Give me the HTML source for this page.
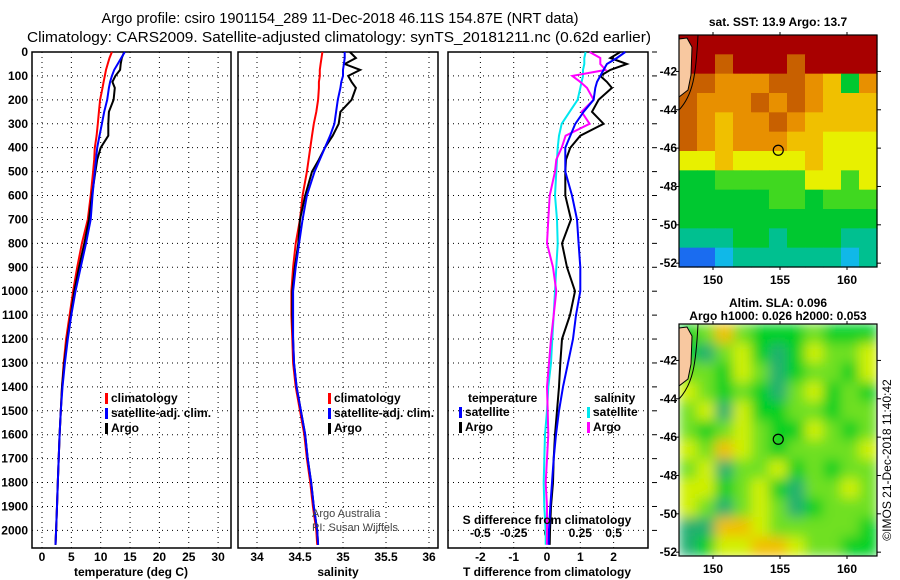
<!DOCTYPE html>
<html><head><meta charset="utf-8">
<style>
body{margin:0;background:#fff;}
svg{display:block;font-family:"Liberation Sans",sans-serif;}
.t{font-weight:bold;font-size:12px;}
</style></head>
<body>
<svg id="fig" width="900" height="580" viewBox="0 0 900 580">
<defs>
<filter id="blur" x="0" y="0" width="1" height="1"><feGaussianBlur stdDeviation="6" edgeMode="duplicate"/></filter>
<clipPath id="clipSla"><rect x="679" y="324" width="198" height="232"/></clipPath>
</defs>
<text x="340" y="23" text-anchor="middle" font-size="15" textLength="477" lengthAdjust="spacingAndGlyphs">Argo profile: csiro 1901154_289 11-Dec-2018 46.11S 154.87E (NRT data)</text>
<text x="339" y="42" text-anchor="middle" font-size="15" textLength="624" lengthAdjust="spacingAndGlyphs">Climatology: CARS2009. Satellite-adjusted climatology: synTS_20181211.nc (0.62d earlier)</text>
<g id="g"></g>
</svg>
<script>
// ---- data ----
const depths=[0,25,50,75,100,125,150,200,250,300,350,400,450,500,600,700,800,900,1000,1100,1200,1300,1400,1500,1600,1700,1800,1900,2000,2060];
const tempClim=[11.9,11.5,11.2,10.9,10.7,10.5,10.3,9.9,9.7,9.5,9.3,9.0,8.9,8.7,8.3,7.8,6.8,6.0,5.3,4.7,4.1,3.7,3.4,3.2,3.0,2.85,2.7,2.55,2.4,2.3];
const tempSat=[14.1,13.5,12.9,12.3,11.9,11.6,11.4,11.1,10.6,10.2,9.8,9.4,9.2,9.0,8.6,8.3,7.5,6.6,5.7,5.0,4.4,3.9,3.5,3.2,3.0,2.85,2.7,2.55,2.4,2.3];
const tempArgo=[14.0,13.6,13.4,13.3,12.5,12.0,12.4,12.2,11.4,11.3,11.3,10.0,9.4,9.1,8.5,8.0,7.2,6.3,5.5,4.9,4.3,3.8,3.4,3.2,3.0,2.85,2.7,2.55,2.4,2.3];
const salClim=[34.76,34.75,34.74,34.73,34.73,34.72,34.72,34.71,34.69,34.66,34.64,34.62,34.60,34.58,34.53,34.50,34.45,34.42,34.40,34.40,34.41,34.42,34.45,34.50,34.55,34.58,34.62,34.65,34.69,34.70];
const salSat=[35.02,35.02,35.01,35.0,35.0,34.98,34.97,34.94,34.92,34.9,34.85,34.79,34.73,34.67,34.58,34.53,34.49,34.45,34.42,34.42,34.42,34.43,34.46,34.51,34.56,34.59,34.63,34.66,34.70,34.71];
const salArgo=[35.08,35.15,35.02,35.2,35.06,35.1,35.15,35.1,34.97,34.95,34.88,34.79,34.72,34.64,34.56,34.50,34.48,34.44,34.41,34.41,34.42,34.43,34.46,34.51,34.56,34.59,34.63,34.66,34.70,34.71];
const dTsat=[2.35,2.1,1.8,1.7,1.6,1.5,1.45,1.4,1.1,0.85,0.7,0.55,0.55,0.55,0.75,0.9,0.95,1.0,1.0,0.87,0.78,0.63,0.48,0.36,0.27,0.2,0.15,0.1,0.06,0.05];
const dTargo=[2.2,1.9,2.4,1.9,1.6,1.8,1.95,1.55,1.35,1.7,1.0,0.7,0.57,0.55,0.55,0.72,0.45,0.6,0.84,0.69,0.45,0.4,0.36,0.3,0.24,0.2,0.18,0.12,0.09,0.08];
const dSsat=[0.29,0.28,0.28,0.27,0.27,0.26,0.25,0.23,0.17,0.11,0.09,0.08,0.075,0.07,0.06,0.075,0.08,0.07,0.06,0.05,0.04,0.03,0.01,0.0,-0.015,-0.02,-0.025,-0.02,-0.01,-0.01];
const dSargo=[0.32,0.40,0.40,0.44,0.19,0.25,0.30,0.35,0.26,0.32,0.14,0.11,0.07,0.06,0.02,0.01,0.0,0.045,0.07,0.05,0.03,0.015,0.0,0.005,0.01,0.0,-0.01,0.0,0.0,0.0];
const depthTicks=[0,100,200,300,400,500,600,700,800,900,1000,1100,1200,1300,1400,1500,1600,1700,1800,1900,2000];
const tempTicks=[0,5,10,15,20,25,30];
const salTicks=[34,34.5,35,35.5,36];
const tdiffTicks=[-2,-1,0,1,2];
const sdiffTicks=[-0.5,-0.25,0,0.25,0.5];
const sdiffLabels=["-0.5","-0.25","0","0.25","0.5"];
const latTicks=[-42,-44,-46,-48,-50,-52];
const lonTicks=[150,155,160];
const sstGrid=[
[10,10,10,10,10,10,10,10,10,10,10],
[10,10,9,10,10,10,9,10,10,10,10],
[9,9,8,8,8,9,9,8,7,4,8],
[9,8,8,8,9,8,9,8,7,7,7],
[9,8,7,8,8,9,8,7,7,7,7],
[9,8,7,8,8,8,7,7,6,6,6],
[6,6,7,6,6,6,6,7,6,6,6],
[4,4,5,5,5,5,5,6,6,5,6],
[4,4,4,4,4,5,5,4,5,5,5],
[4,4,4,4,4,4,4,4,4,4,4],
[3,3,3,4,4,3,4,4,4,3,3],
[1,1,2,3,3,3,3,3,3,2,3]];
const slaGrid=[
[4,5,7,5,4,4,4,5,4,4,4],
[4,3,5,6,4,3,4,6,5,5,6],
[5,5,4,6,5,3,4,5,5,4,6],
[6,5,4,5,4,3,5,6,4,5,4],
[5,6,3,6,4,4,5,5,4,5,5],
[5,4,5,6,5,4,4,6,5,4,5],
[6,5,7,6,5,4,5,5,5,5,6],
[5,6,3,5,5,6,4,5,4,5,5],
[6,6,4,5,6,4,3,5,5,6,5],
[6,5,3,5,6,5,3,4,5,5,5],
[3,3,7,7,6,5,5,5,5,5,4],
[3,4,6,6,7,7,6,5,5,4,4]];
const cmap=["#0a2fb0","#1a6cf0","#10b8e8","#00c090","#00c830","#40d820","#e8f000","#f0c000","#e89000","#c86000","#a80000"];
const slaCmap=["#0a2fb0","#1a6cf0","#10c0c8","#20b070","#00d020","#70e020","#d0f000","#f0c000","#e89000","#c86000","#a80000"];

// ---- drawing ----
const NS="http://www.w3.org/2000/svg";
const G=document.getElementById('g');
function el(tag,attrs,parent){const e=document.createElementNS(NS,tag);for(const k in attrs)e.setAttribute(k,attrs[k]);(parent||G).appendChild(e);return e;}
function txt(x,y,s,anchor,parent,size){const e=el('text',{x:x,y:y,'text-anchor':anchor||'middle',class:'t'},parent);if(size)e.setAttribute('font-size',size);e.textContent=s;return e;}
const Y0=52, PY=0.2392;
const yD=d=>Y0+d*PY;
const BOT=548;

function panel(name,x0,x1,xf,ticks,labels,tickLabelY){
  const g=el('g',{});
  
  
  depthTicks.forEach(d=>{const l=el('line',{x1:x0,x2:x1,y1:yD(d),y2:yD(d),stroke:'#000','stroke-width':1,'stroke-dasharray':'1,4'},g);
    });
  ticks.forEach((t,i)=>{const x=xf(t);const l=el('line',{x1:x,x2:x,y1:Y0,y2:BOT,stroke:'#000','stroke-width':1,'stroke-dasharray':'1,4'},g);
    
    if(labels){const tl=txt(x,tickLabelY,labels[i],'middle',g);}});
  const r=el('rect',{x:x0,y:Y0,width:x1-x0,height:BOT-Y0,fill:'none',stroke:'#000','stroke-width':1.5},g);
  
  return g;
}
function line(g,xf,vals,color,name){
  const pts=vals.map((v,i)=>xf(v).toFixed(1)+','+yD(depths[i]).toFixed(1)).join(' ');
  const p=el('polyline',{points:pts,fill:'none',stroke:color,'stroke-width':2},g);
  
}
function legend(g,x,y,items){
  items.forEach((it,i)=>{
    const b=el('rect',{x:x,y:y+i*15-9,width:3,height:11,fill:it[1]},g);
    
    const t=txt(x+6,y+i*15,it[0],'start',g);
  });
}
// Panel 1 temperature
const xT=v=>42+v*5.87;
const p1=panel('temperature-panel',32,231,xT,tempTicks,tempTicks.map(String),561);
depthTicks.forEach(d=>{const t=txt(28,yD(d)+4,String(d),'end',p1);});
line(p1,xT,tempClim,'#ff0000','temp-climatology-line');
line(p1,xT,tempArgo,'#000','temp-argo-line');
line(p1,xT,tempSat,'#0000ff','temp-satellite-line');
legend(p1,105,402,[['climatology','#ff0000'],['satellite-adj. clim.','#0000ff'],['Argo','#000']]);
const xl1=txt(131,576,'temperature (deg C)','middle',p1);
// Panel 2 salinity
const xS=v=>257+(v-34)*86;
const p2=panel('salinity-panel',238,438,xS,salTicks,['34','34.5','35','35.5','36'],561);
line(p2,xS,salClim,'#ff0000','sal-climatology-line');
line(p2,xS,salArgo,'#000','sal-argo-line');
line(p2,xS,salSat,'#0000ff','sal-satellite-line');
legend(p2,328,402,[['climatology','#ff0000'],['satellite-adj. clim.','#0000ff'],['Argo','#000']]);
const xl2=txt(338,576,'salinity','middle',p2);
const c1=el('text',{x:312,y:517,'font-size':11,fill:'#444'},p2);c1.textContent='Argo Australia';
const c2=el('text',{x:312,y:531,'font-size':11,fill:'#444'},p2);c2.textContent='PI: Susan Wijffels';
// Panel 3 differences
const xdT=v=>547+v*33.3;
const xdS=v=>547+v*133.2;
const p3=panel('difference-panel',448,648,xdT,tdiffTicks,tdiffTicks.map(String),561);
sdiffTicks.forEach((t,i)=>{const tl=txt(xdS(t),537,sdiffLabels[i],'middle',p3);});
depthTicks.forEach(d=>{el('line',{x1:652,x2:657,y1:yD(d),y2:yD(d),stroke:'#000'},p3);});
line(p3,xdS,dSsat,'#00e8f0','sal-diff-satellite-line');
line(p3,xdS,dSargo,'#ff00ff','sal-diff-argo-line');
line(p3,xdT,dTargo,'#000','temp-diff-argo-line');
line(p3,xdT,dTsat,'#0000ff','temp-diff-satellite-line');
const lt=txt(468,402,'temperature','start',p3);
legend(p3,459,416,[['satellite','#0000ff'],['Argo','#000']]);
const ls=txt(594,402,'salinity','start',p3);
legend(p3,587,416,[['satellite','#00e8f0'],['Argo','#ff00ff']]);
const sl=txt(547,524,'S difference from climatology','middle',p3);
const tl3=txt(547,576,'T difference from climatology','middle',p3);

// Maps
const MX0=679,MX1=877;
const lonX=l=>713+(l-150)*13.4;
function map(name,top,bottom,grid,cm,smooth,title1,title2){
  const g=el('g',{});
  
  
  const latY=la=>top+( -40.1-la)*((bottom-top)/12.1);
  const rows=grid.length, cols=grid[0].length;
  const cw=(MX1-MX0)/cols, ch=(bottom-top)/rows;
  const cg=el('g',{},g);
  if(smooth){const cl=el('g',{'clip-path':'url(#clipSla)'},g);cl.appendChild(cg);cg.setAttribute('filter','url(#blur)');}
  grid.forEach((row,r)=>row.forEach((v,c)=>{
    const cell=el('rect',{x:MX0+c*cw,y:top+r*ch,width:cw+0.6,height:ch+0.6,fill:cm[v]},cg);
    
    
  }));
  const land=el('polygon',{points:`${MX0},${top+4} ${MX0+8},${top+3} ${MX0+13},${top+12} ${MX0+12},${top+40} ${MX0+9},${top+55} ${MX0},${top+62}`,fill:'#f8c8a0',stroke:'#000','stroke-width':1},g);
  
  el('path',{d:`M${MX0+19},${top} C${MX0+17},${top+40} ${MX0+14},${top+60} ${MX0},${top+75}`,fill:'none',stroke:'#000','stroke-width':1},g);
  const fr=el('rect',{x:MX0,y:top,width:MX1-MX0,height:bottom-top,fill:'none',stroke:'#000','stroke-width':1.2},g);
  
  const mk=el('circle',{cx:lonX(154.87),cy:latY(-46.11),r:5,fill:'none',stroke:'#000','stroke-width':1.2},g);
  
  latTicks.forEach(la=>{const y=latY(la);el('line',{x1:MX0,x2:MX0-3,y1:y,y2:y,stroke:'#000'},g);el('line',{x1:MX1,x2:MX1+4,y1:y,y2:y,stroke:'#000'},g);
    const t=txt(677,y+4,String(la),'end',g);});
  lonTicks.forEach(lo=>{const x=lonX(lo);el('line',{x1:x,x2:x,y1:top,y2:top-3,stroke:'#000'},g);el('line',{x1:x,x2:x,y1:bottom,y2:bottom+3,stroke:'#000'},g);
    const t=txt(x,bottom+17,String(lo),'middle',g);});
  const a=txt(778,top-(title2?17:9),title1,'middle',g);
  if(title2){const b=txt(778,top-4,title2,'middle',g);}
}
map('sst-map',35,267,sstGrid,cmap,false,'sat. SST: 13.9 Argo: 13.7');
map('sla-map',324,556,slaGrid,slaCmap,true,'Altim. SLA: 0.096','Argo h1000: 0.026 h2000: 0.053');
const cr=el('text',{x:0,y:0,'font-size':12,'text-anchor':'middle',transform:'translate(891,460) rotate(-90)'});
cr.textContent='©IMOS 21-Dec-2018 11:40:42';


</script>
</body></html>
